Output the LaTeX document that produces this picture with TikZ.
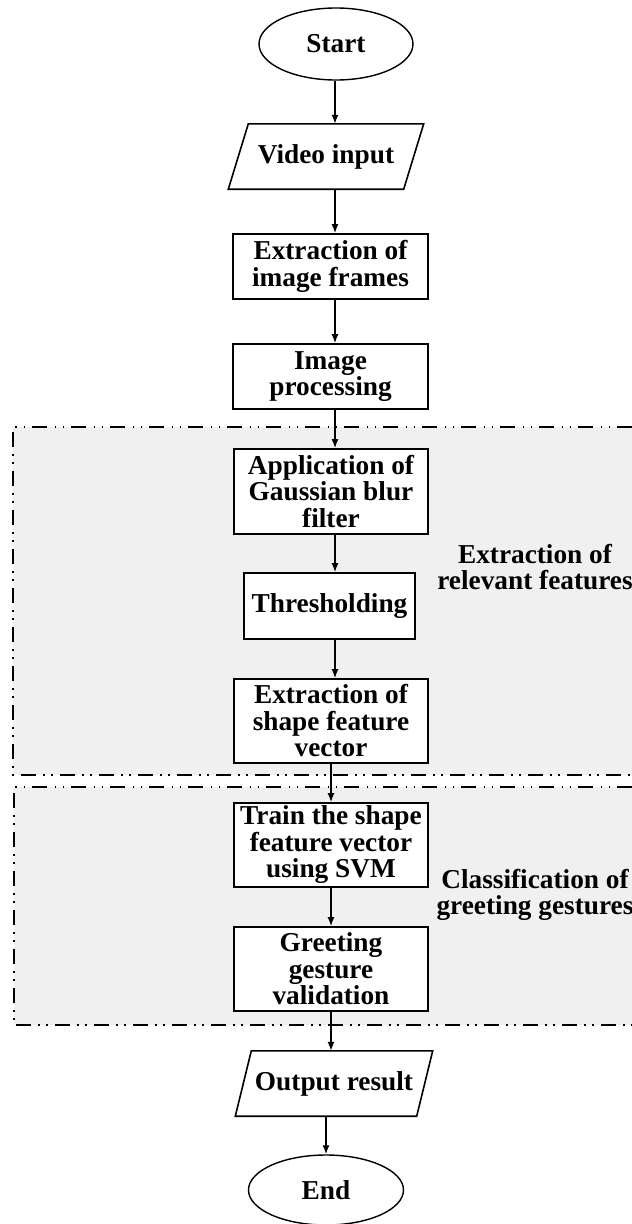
\documentclass[tikz,border=0pt]{standalone}
\usepackage{fontspec}
\setmainfont{Liberation Serif}
\usetikzlibrary{shapes.geometric,arrows.meta}
\definecolor{regfill}{RGB}{240,240,240}
\begin{document}
\begin{tikzpicture}[x=1pt,y=-1pt,
  txt/.style={font=\fontsize{27.3}{26.5}\selectfont\bfseries, align=center, inner sep=0pt},
  box/.style={txt, draw, rectangle, line width=1.7pt, fill=white},
  oval/.style={txt, draw, ellipse, line width=1.4pt, fill=white},
  arr/.style={line width=1.5pt, -{Latex[length=9pt,width=7pt]}},
  region/.style={line width=1.6pt, dash pattern=on 15pt off 7pt on 1.5pt off 6.5pt on 1.5pt off 7.5pt},
  para/.style={line width=1.6pt, line join=miter}
]
\useasboundingbox (0,0) rectangle (632,1224);
\fill[white] (0,0) rectangle (632,1224);

% regions
\fill[regfill] (13,427) rectangle (632,775);
\draw[region] (632,427) -- (13,427) -- (13,775) -- (632,775);
\fill[regfill] (14,787) rectangle (632,1025);
\draw[region] (632,787) -- (14,787) -- (14,1025) -- (632,1025);

% nodes
\node[oval, minimum width=154pt, minimum height=72pt] (start) at (336,44) {Start};
\node[txt, minimum width=175pt, minimum height=65pt] (vid) at (326,156.5) {Video input};
\draw[para] ([xshift=-10pt]vid.south west) -- ([xshift=-10pt]vid.south east)
  -- ([xshift=10pt]vid.north east) -- ([xshift=10pt]vid.north west) -- cycle;
\node[box, minimum width=195pt, minimum height=65pt] (ext1) at (330.5,266.5) {Extraction of\\image frames};
\node[box, minimum width=195pt, minimum height=65pt] (proc) at (330.5,376.5) {Image\\processing};
\node[box, minimum width=194pt, minimum height=85pt] (app) at (331,491.5) {Application of\\Gaussian blur\\filter};
\node[box, minimum width=171pt, minimum height=66pt] (thr) at (329.5,606) {Thresholding};
\node[box, minimum width=194pt, minimum height=84pt] (shp) at (331,721) {Extraction of\\shape feature\\vector};
\node[box, minimum width=194pt, minimum height=84pt] (trn) at (331,845) {Train the shape\\feature vector\\using SVM};
\node[box, minimum width=194pt, minimum height=84pt] (grt) at (331,969) {Greeting\\gesture\\validation};
\node[txt, minimum width=181pt, minimum height=65pt] (out) at (334,1083.5) {Output result};
\draw[para] ([xshift=-8pt]out.south west) -- ([xshift=-8pt]out.south east)
  -- ([xshift=8pt]out.north east) -- ([xshift=8pt]out.north west) -- cycle;
\node[oval, minimum width=155pt, minimum height=70pt] (end) at (326,1190) {End};

% region labels
\node[txt] (lab1) at (535,567) {Extraction of\\relevant features};
\node[txt] (lab2) at (535,895) {Classification of\\greeting gestures};

% arrows
\coordinate (ax1) at (335,0);
\coordinate (ax2) at (331,0);
\draw[arr] (start.south -| ax1) -- (vid.north -| ax1);
\draw[arr] (vid.south -| ax1) -- (ext1.north -| ax1);
\draw[arr] (ext1.south -| ax1) -- (proc.north -| ax1);
\draw[arr] (proc.south -| ax1) -- (app.north -| ax1);
\draw[arr] (app.south -| ax1) -- (thr.north -| ax1);
\draw[arr] (thr.south -| ax1) -- (shp.north -| ax1);
\draw[arr] (shp.south -| ax2) -- (trn.north -| ax2);
\draw[arr] (trn.south -| ax2) -- (grt.north -| ax2);
\draw[arr] (grt.south -| ax2) -- (out.north -| ax2);
\draw[arr] (out.south -| end.north) -- (end.north);
\end{tikzpicture}
\end{document}
